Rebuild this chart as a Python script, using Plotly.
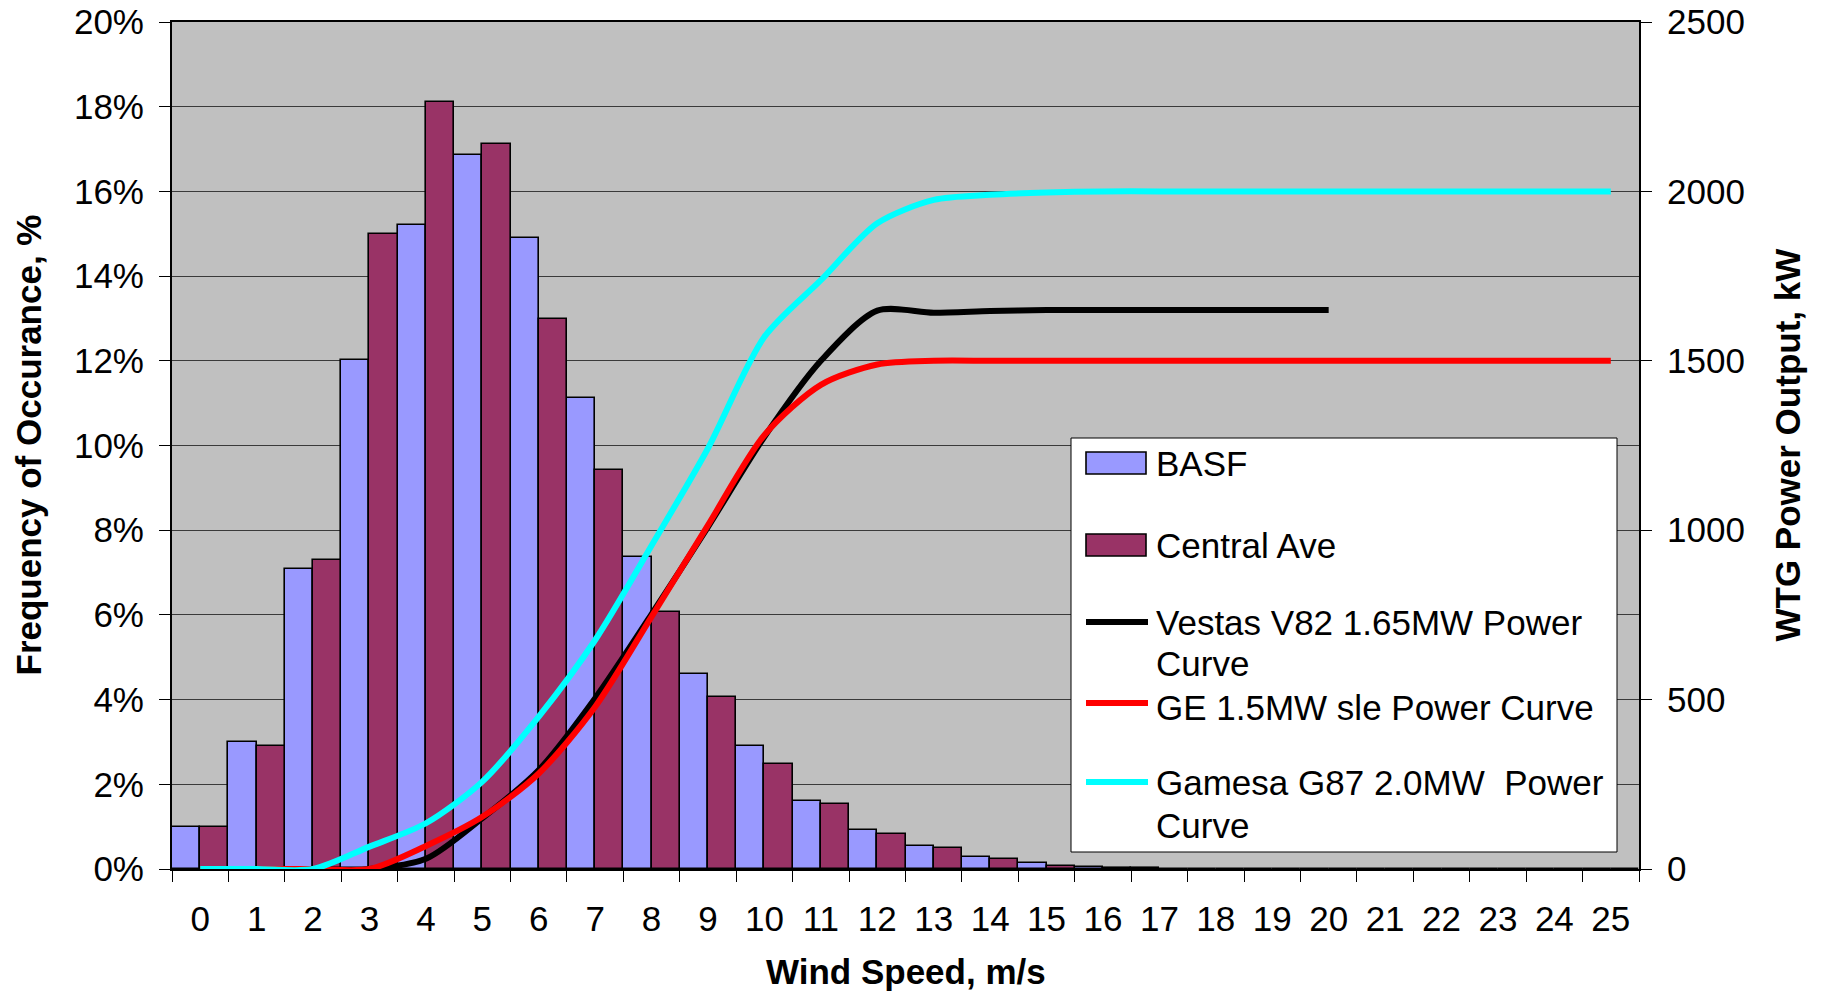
import plotly.graph_objects as go

# Wind speed bins (m/s)
speeds = [str(k) for k in range(26)]

# Frequency of occurrence per wind speed bin (fraction)
basf = [0.0100, 0.0300, 0.0709, 0.1203, 0.1520, 0.1685, 0.1490, 0.1113, 0.0736, 0.0460,
        0.0290, 0.0161, 0.0093, 0.0055, 0.0029, 0.0015, 0.0004, 0.0002, 0, 0,
        0, 0, 0, 0, 0, 0]
central_ave = [0.0100, 0.0290, 0.0730, 0.1500, 0.1810, 0.1712, 0.1298, 0.0942, 0.0608, 0.0405,
               0.0247, 0.0153, 0.0082, 0.0050, 0.0024, 0.0008, 0.0003, 0, 0, 0,
               0, 0, 0, 0, 0, 0]

# Turbine power curves (kW)
vestas_v82 = [0, 0, 0, 0, 30, 150, 292, 504, 752, 1010,
              1276, 1500, 1648, 1642, 1647, 1650, 1650, 1650, 1650, 1650, 1650]
ge_15sle = [0, 0, 0, 0, 68, 154, 282, 479, 745, 1015,
            1281, 1429, 1489, 1500, 1500, 1500, 1500, 1500, 1500, 1500,
            1500, 1500, 1500, 1500, 1500, 1500]
gamesa_g87 = [0, 0, 0, 66, 135, 258, 450, 676, 955, 1242,
              1571, 1738, 1906, 1975, 1990, 1997, 2000, 2000, 2000, 2000,
              2000, 2000, 2000, 2000, 2000, 2000]

bar_series = [("BASF", basf, "#9999FF"), ("Central Ave", central_ave, "#993366")]
curve_series = [("Vestas V82 1.65MW Power Curve", vestas_v82, "#000000"),
                ("GE 1.5MW sle Power Curve", ge_15sle, "#FF0000"),
                ("Gamesa G87 2.0MW  Power Curve", gamesa_g87, "#00FFFF")]
# Legend text lines (wrapped as in the legend box)
legend_lines = [["BASF"], ["Central Ave"], ["Vestas V82 1.65MW Power", "Curve"],
                ["GE 1.5MW sle Power Curve"], ["Gamesa G87 2.0MW  Power", "Curve"]]

FONT = "Liberation Sans, Arial, sans-serif"
W, H = 1824, 993
L, R, T, B = 172, 185, 22, 124
PW, PH = W - L - R, H - T - B

fig = go.Figure()
for name, vals, color in bar_series:
    fig.add_trace(go.Bar(x=speeds, y=vals, name=name, marker_color=color,
                         marker_line=dict(color="#000000", width=1.6),
                         showlegend=False))
for name, vals, color in curve_series:
    fig.add_trace(go.Scatter(x=speeds[:len(vals)], y=vals, name=name, yaxis="y2",
                             mode="lines", line=dict(color=color, width=6,
                                                     shape="spline", smoothing=0.8),
                             showlegend=False))


def px_x(x):
    return (x - L) / PW


def px_y(y):
    return (H - B - y) / PH


shapes = []
annotations = []

# Legend box
shapes.append(dict(type="rect", xref="paper", yref="paper",
                   x0=px_x(1071), x1=px_x(1617), y0=px_y(852), y1=px_y(438),
                   fillcolor="#FFFFFF", line=dict(color="#000000", width=1), layer="above"))

legend_rows = [463, 545, 622, 703, 782]
legend_line_y = [[463], [545], [622, 663], [707], [782, 825]]
colors = [c for _, _, c in bar_series] + [c for _, _, c in curve_series]
for i, (row, ys, lines, color) in enumerate(zip(legend_rows, legend_line_y, legend_lines, colors)):
    if i < len(bar_series):
        shapes.append(dict(type="rect", xref="paper", yref="paper",
                           x0=px_x(1086), x1=px_x(1146), y0=px_y(row + 11), y1=px_y(row - 11),
                           fillcolor=color, line=dict(color="#000000", width=1.6), layer="above"))
    else:
        shapes.append(dict(type="line", xref="paper", yref="paper",
                           x0=px_x(1086), x1=px_x(1148), y0=px_y(row), y1=px_y(row),
                           line=dict(color=color, width=6), layer="above"))
    for ty, text in zip(ys, lines):
        annotations.append(dict(text=text, xref="paper", yref="paper", x=px_x(1155), y=px_y(ty),
                                xanchor="left", yanchor="middle", align="left", showarrow=False,
                                borderpad=0,
                                font=dict(family=FONT, size=35, color="#000000")))

# Axis titles
annotations.append(dict(text="<b>Frequency of Occurance, %</b>", xref="paper", yref="paper",
                        x=px_x(28), y=0.5, textangle=-90, showarrow=False,
                        xanchor="center", yanchor="middle",
                        font=dict(family=FONT, size=35, color="#000000")))
annotations.append(dict(text="<b>WTG Power Output, kW</b>", xref="paper", yref="paper",
                        x=px_x(1787), y=0.5, textangle=-90, showarrow=False,
                        xanchor="center", yanchor="middle",
                        font=dict(family=FONT, size=35, color="#000000")))
annotations.append(dict(text="<b>Wind Speed, m/s</b>", xref="paper", yref="paper",
                        x=0.5, y=px_y(971), showarrow=False,
                        xanchor="center", yanchor="middle",
                        font=dict(family=FONT, size=35, color="#000000")))

fig.update_layout(
    width=W, height=H,
    margin=dict(l=L, r=R, t=T, b=B, autoexpand=False),
    paper_bgcolor="#FFFFFF", plot_bgcolor="#C0C0C0",
    barmode="group", bargap=0, bargroupgap=0,
    font=dict(family=FONT, size=35, color="#000000"),
    shapes=shapes, annotations=annotations,
    xaxis=dict(type="category", tickson="boundaries", ticks="outside", ticklen=11,
               tickcolor="#000000", tickwidth=1, showgrid=False, automargin=False,
               showline=True, linecolor="#000000", linewidth=2, mirror=True,
               ticklabelstandoff=18, tickfont=dict(size=35)),
    yaxis=dict(range=[0, 0.2], dtick=0.02, tickformat=".0%", ticks="outside", ticklen=11,
               tickcolor="#000000", tickwidth=1, showgrid=True, gridcolor="#3a3a3a",
               gridwidth=1, showline=True, linecolor="#000000", linewidth=2, mirror=True,
               zeroline=False, automargin=False, ticklabelstandoff=8, tickfont=dict(size=35)),
    yaxis2=dict(range=[0, 2500], dtick=500, overlaying="y", side="right", ticks="outside",
                ticklen=11, tickcolor="#000000", tickwidth=1, showgrid=False,
                showline=True, linecolor="#000000", linewidth=2, zeroline=False,
                automargin=False, ticklabelstandoff=8, tickfont=dict(size=35)),
)

fig.write_html("out.html")
